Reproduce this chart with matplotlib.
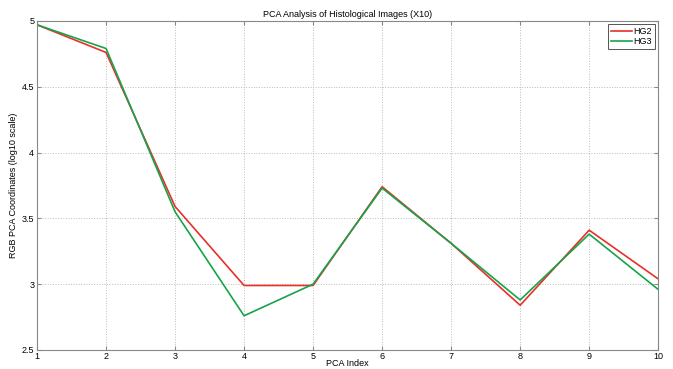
import matplotlib
matplotlib.use('Agg')
import matplotlib.pyplot as plt

pca_index = [1, 2, 3, 4, 5, 6, 7, 8, 9, 10]
hg2 = [4.97, 4.76, 3.59, 2.99, 2.99, 3.74, 3.31, 2.84, 3.41, 3.04]
hg3 = [4.97, 4.79, 3.55, 2.76, 3.00, 3.73, 3.31, 2.88, 3.38, 2.96]

plt.rcParams['font.family'] = ['Liberation Sans', 'DejaVu Sans']

fig = plt.figure(figsize=(6.73, 3.69), dpi=100)
ax = fig.add_axes([0.055, 0.0515, 0.923, 0.892])

ax.plot(pca_index, hg2, color='#e8302a', lw=1.2, label='HG2')
ax.plot(pca_index, hg3, color='#17a34a', lw=1.2, label='HG3')

ax.set_xlim(1, 10)
ax.set_ylim(2.5, 5)
ax.set_xticks(pca_index)
ax.set_yticks([2.5, 3, 3.5, 4, 4.5, 5])
ax.set_yticklabels(['2.5', '3', '3.5', '4', '4.5', '5'])
ax.grid(True, linestyle=':', color='#bbbbbb', lw=0.7)
ax.tick_params(direction='in', top=True, right=True, labelsize=6.5, length=3,
               color='#888888', pad=2)
ax.tick_params(axis='x', pad=1.5)
for s in ax.spines.values():
    s.set_color('#888888')

ax.set_title('PCA Analysis of Histological Images (X10)', fontsize=6.5, pad=3)
ax.set_xlabel('PCA Index', fontsize=6.5, labelpad=-1.5)
ax.set_ylabel('RGB PCA Coordinates (log10 scale)', fontsize=6.5, labelpad=3)

leg = ax.legend(loc='upper right', fontsize=6.5, fancybox=False, framealpha=1,
                borderaxespad=0.4, handlelength=2.3, borderpad=0.3, labelspacing=0.1,
                handletextpad=0.2)
leg.get_frame().set_edgecolor('#555555')
leg.get_frame().set_linewidth(0.7)

fig.savefig('out.png', dpi=100)
